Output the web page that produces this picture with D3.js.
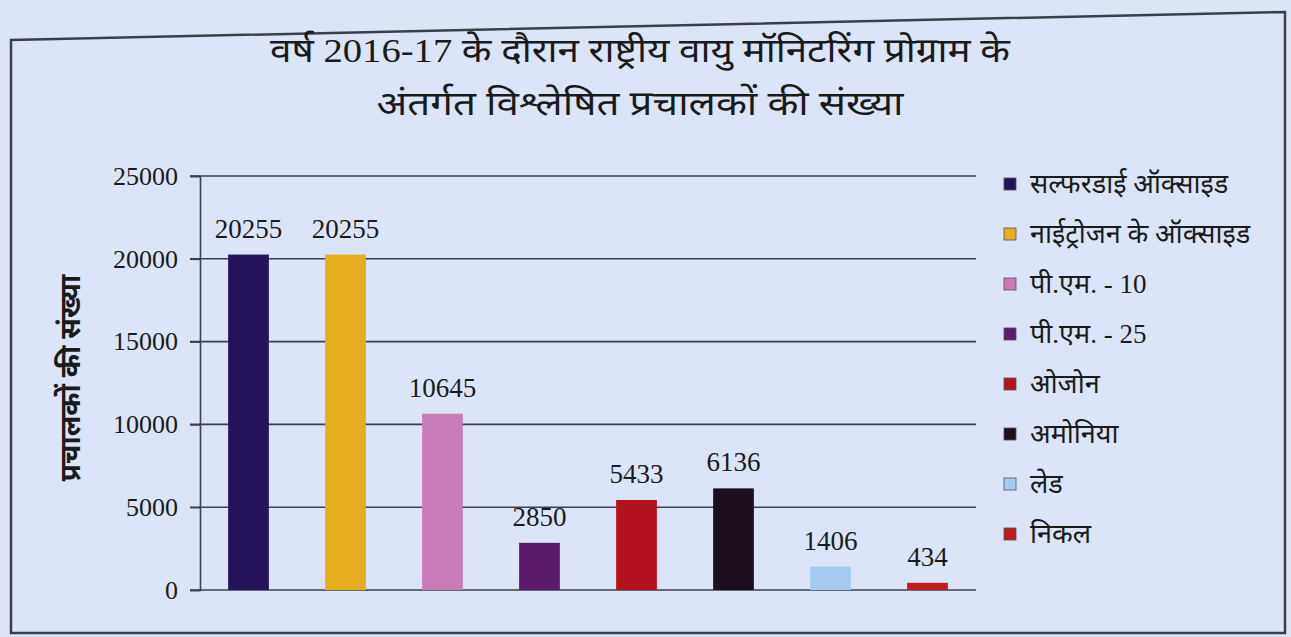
<!DOCTYPE html>
<html><head><meta charset="utf-8">
<script src="https://cdn.jsdelivr.net/npm/d3@7/dist/d3.min.js"></script>
<style>
html,body{margin:0;padding:0;background:#dce5f6;}
svg{display:block;}
text{font-family:"Liberation Serif","Noto Serif","Noto Sans",serif;fill:#1a1a1a;}
</style></head>
<body>
<svg id="chart" width="1291" height="637"></svg>
<script>
const categories = ["सल्फरडाई ऑक्साइड","नाईट्रोजन के ऑक्साइड","पी.एम. - 10","पी.एम. - 25","ओजोन","अमोनिया","लेड","निकल"];
const values = [20255, 20255, 10645, 2850, 5433, 6136, 1406, 434];
const colors = ["#25145c","#e6ad1e","#c97cb8","#5a1b6c","#b3111c","#1d0f1d","#a6cbf3","#be1a1f"];
const yTicks = [0, 5000, 10000, 15000, 20000, 25000];
const titleLines = ["वर्ष 2016-17 के दौरान राष्ट्रीय वायु मॉनिटरिंग प्रोग्राम के","अंतर्गत विश्लेषित प्रचालकों की संख्या"];
const yTitle = "प्रचालकों की संख्या";

const svg = d3.select("#chart");
const plot = {left:200, right:976, top:176, bottom:590};

// border frame (slightly skewed as in scan)
svg.append("path")
  .attr("d", "M11,40 L1285,12 L1285,633 L11,633 Z")
  .attr("fill", "#dbe5f7").attr("stroke", "#3a3f48").attr("stroke-width", 2.5);

const x = d3.scaleBand().domain(categories).range([plot.left, plot.right]).paddingInner(0.58).paddingOuter(0.29);
const y = d3.scaleLinear().domain([0, 25000]).range([plot.bottom, plot.top]);

// gridlines
svg.append("g").selectAll("line").data(yTicks).join("line")
  .attr("x1", plot.left - 10).attr("x2", plot.right)
  .attr("y1", d => y(d)).attr("y2", d => y(d))
  .attr("stroke", "#3b4150").attr("stroke-width", 1.6);

// y axis
const yAxis = d3.axisLeft(y).tickValues(yTicks).tickSize(10).tickPadding(12).tickFormat(d3.format("d"));
const ga = svg.append("g").attr("transform", `translate(${plot.left},0)`).call(yAxis);
ga.select(".domain").attr("stroke", "#3b4150").attr("stroke-width", 1.6);
ga.selectAll(".tick line").attr("stroke", "#3b4150").attr("stroke-width", 1.6);
ga.selectAll(".tick text").attr("font-size", 26).attr("font-family", "Liberation Serif, serif").attr("fill", "#222").attr("dy", "0.32em");

// bars
svg.append("g").selectAll("rect").data(values).join("rect")
  .attr("x", (d,i) => x(categories[i]))
  .attr("width", x.bandwidth())
  .attr("y", d => y(d))
  .attr("height", d => y(0) - y(d))
  .attr("fill", (d,i) => colors[i]);

// value labels
svg.append("g").selectAll("text").data(values).join("text")
  .attr("x", (d,i) => x(categories[i]) + x.bandwidth()/2)
  .attr("y", d => y(d) - 17)
  .attr("text-anchor", "middle")
  .attr("font-size", 27)
  .text(d => d);

// title
const titleW = [740, 527];
svg.append("g").selectAll("text").data(titleLines).join("text")
  .attr("x", 640).attr("y", (d,i) => 62 + i*53)
  .attr("text-anchor", "middle").attr("font-size", 34)
  .attr("textLength", (d,i) => titleW[i]).attr("lengthAdjust", "spacingAndGlyphs")
  .text(d => d);

// y title
svg.append("text")
  .attr("transform", "translate(80,378) rotate(-90)")
  .attr("text-anchor", "middle").attr("font-size", 28).attr("font-weight", "bold")
  .text(yTitle);

// legend
const lg = svg.append("g").selectAll("g").data(categories).join("g")
  .attr("transform", (d,i) => `translate(1004,${184 + i*50})`);
lg.append("rect").attr("x", 0).attr("y", -6).attr("width", 12).attr("height", 12)
  .attr("fill", (d,i) => colors[i]).attr("stroke", "#555").attr("stroke-width", 0.8);
lg.append("text").attr("x", 26).attr("y", 0).attr("dy", "0.35em").attr("font-size", 27).text(d => d);
</script>
</body></html>
